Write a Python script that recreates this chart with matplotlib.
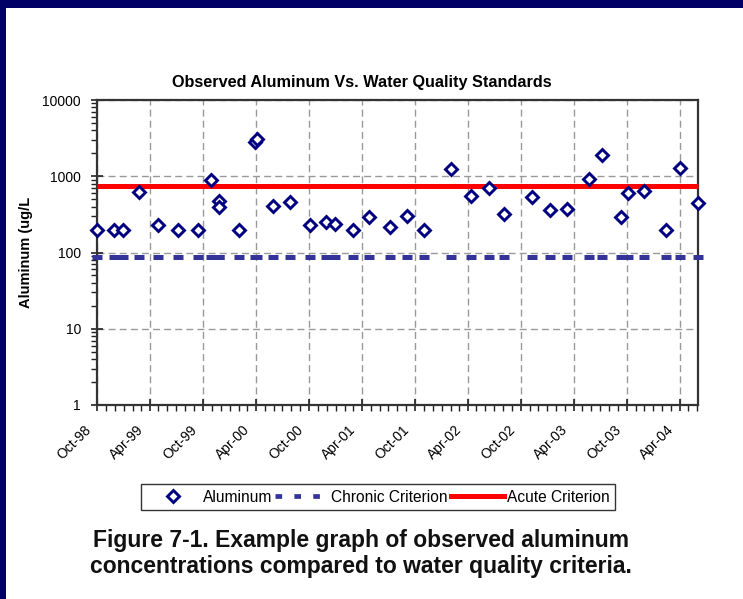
import numpy as np
import pandas as pd
import matplotlib
matplotlib.use("Agg")
import matplotlib.pyplot as plt
import matplotlib.dates as mdates
import matplotlib.transforms as mtransforms
from matplotlib.lines import Line2D
from matplotlib.patches import Rectangle
from matplotlib.ticker import LogLocator, FuncFormatter

plt.rcParams['font.family'] = ['Liberation Sans', 'DejaVu Sans']

# sample dates and observed aluminum (ug/L)
sample_dates = [
    "1998-10-02", "1998-11-29", "1998-12-30", "1999-02-24", "1999-04-29",
    "1999-07-08", "1999-09-13", "1999-10-28", "1999-11-25", "1999-11-25",
    "2000-02-03", "2000-03-27", "2000-04-04", "2000-05-31", "2000-07-28",
    "2000-10-05", "2000-11-28", "2000-12-29", "2001-03-03", "2001-04-27",
    "2001-07-07", "2001-09-05", "2001-11-02", "2002-02-04", "2002-04-12",
    "2002-06-15", "2002-08-03", "2002-11-07", "2003-01-10", "2003-03-11",
    "2003-05-25", "2003-07-07", "2003-09-10", "2003-10-04", "2003-11-29",
    "2004-02-14", "2004-04-03", "2004-06-03",
]
aluminum = [
    200, 200, 200, 620, 230,
    200, 200, 890, 470, 390,
    200, 2820, 3080, 410, 455,
    230, 250, 240, 200, 295,
    218, 300, 200, 1240, 545,
    710, 320, 530, 360, 375,
    920, 1890, 290, 610, 635,
    200, 1290, 450,
]
chronic_criterion = 87
acute_criterion = 750

dates = pd.to_datetime(sample_dates)
navy = "#000080"
slate = "#333399"

fig = plt.figure(figsize=(7.43, 5.99), dpi=100)
fig.patch.set_facecolor("white")
# dark frame on top and left edge
fig.patches.append(Rectangle((0, 1 - 8 / 599), 1, 8 / 599, transform=fig.transFigure,
                             facecolor="#000066", edgecolor="none", zorder=-5))
fig.patches.append(Rectangle((0, 0), 6 / 743, 1, transform=fig.transFigure,
                             facecolor="#000066", edgecolor="none", zorder=-5))

ax = fig.add_axes([97 / 743, 1 - 405 / 599, 601 / 743, 305 / 599])
ax.set_yscale("log")
ax.set_ylim(1, 10000)
ax.set_xlim(pd.Timestamp("1998-10-01"), pd.Timestamp("2004-06-03"))

# criteria
ax.plot(dates, np.full(len(dates), acute_criterion), color="red", lw=3.6,
        solid_capstyle="butt", zorder=3, clip_on=False)
ax.plot(dates, np.full(len(dates), chronic_criterion), linestyle="none", marker="_",
        markersize=6.5, markeredgewidth=3.6, color=slate, zorder=3, clip_on=False)
# observations
ax.plot(dates, aluminum, linestyle="none", marker="D", markersize=6.2,
        markerfacecolor="white", markeredgecolor=navy, markeredgewidth=2.1,
        zorder=4, clip_on=False)

# axes styling
ax.xaxis.set_major_locator(mdates.MonthLocator(bymonth=[4, 10]))
ax.xaxis.set_minor_locator(mdates.MonthLocator())
ax.xaxis.set_major_formatter(mdates.DateFormatter("%b-%y"))
ax.yaxis.set_major_locator(LogLocator(base=10, numticks=10))
ax.yaxis.set_minor_locator(LogLocator(base=10, subs=np.arange(2, 10), numticks=10))
ax.yaxis.set_major_formatter(FuncFormatter(lambda v, p: f"{v:.0f}"))

ax.tick_params(axis="both", which="major", direction="inout", length=8, width=1.2,
               color="#222222", labelsize=10)
ax.tick_params(axis="both", which="minor", direction="out", length=4, width=1,
               color="#222222")
ax.tick_params(axis="y", which="major", pad=7.5)

# rotated date labels, nudged down-left like the original
offset = mtransforms.ScaledTranslation(-13 / 100, -7 / 100, fig.dpi_scale_trans)
for tick in ax.xaxis.get_major_ticks():
    lbl = tick.label1
    lbl.set_rotation(45)
    lbl.set_ha("right")
    lbl.set_rotation_mode("anchor")
    lbl.set_transform(lbl.get_transform() + offset)

for s in ax.spines.values():
    s.set_linewidth(1.6)
    s.set_color("#333333")

ax.grid(True, which="major", color="#999999", linestyle=(0, (5, 3)), linewidth=1)
ax.set_axisbelow(True)

ax.set_ylabel("Aluminum (ug/L", fontsize=10.5, fontweight="bold", labelpad=7)
fig.text(362 / 743, 1 - 83 / 599, "Observed Aluminum Vs. Water Quality Standards",
         ha="center", va="center", fontsize=11.7, fontweight="bold")

# legend
handles = [
    Line2D([], [], linestyle="none", marker="D", markersize=6.2, markerfacecolor="white",
           markeredgecolor=navy, markeredgewidth=2.1),
    Line2D([], [], color=slate, lw=3.4, linestyle=(0, (1.4, 2.6))),
    Line2D([], [], color="red", lw=3.6),
]
leg = fig.legend(handles, ["Aluminum", "Chronic Criterion", "Acute Criterion"],
                 loc="center", bbox_to_anchor=(378 / 743, 1 - 497 / 599), ncol=3,
                 fontsize=11.2, frameon=True, fancybox=False, handlelength=3.4,
                 handletextpad=0.2, columnspacing=0.2, borderpad=0.35)
leg.get_frame().set_edgecolor("black")
leg.get_frame().set_linewidth(1)

# caption
fig.text(361 / 743, 1 - 540 / 599, "Figure 7-1. Example graph of observed aluminum",
         ha="center", va="center", fontsize=16.5, fontweight="bold", color="#111111")
fig.text(361 / 743, 1 - 567 / 599, "concentrations compared to water quality criteria.",
         ha="center", va="center", fontsize=16.5, fontweight="bold", color="#111111")

fig.savefig("out.png", dpi=100, facecolor=fig.get_facecolor())
